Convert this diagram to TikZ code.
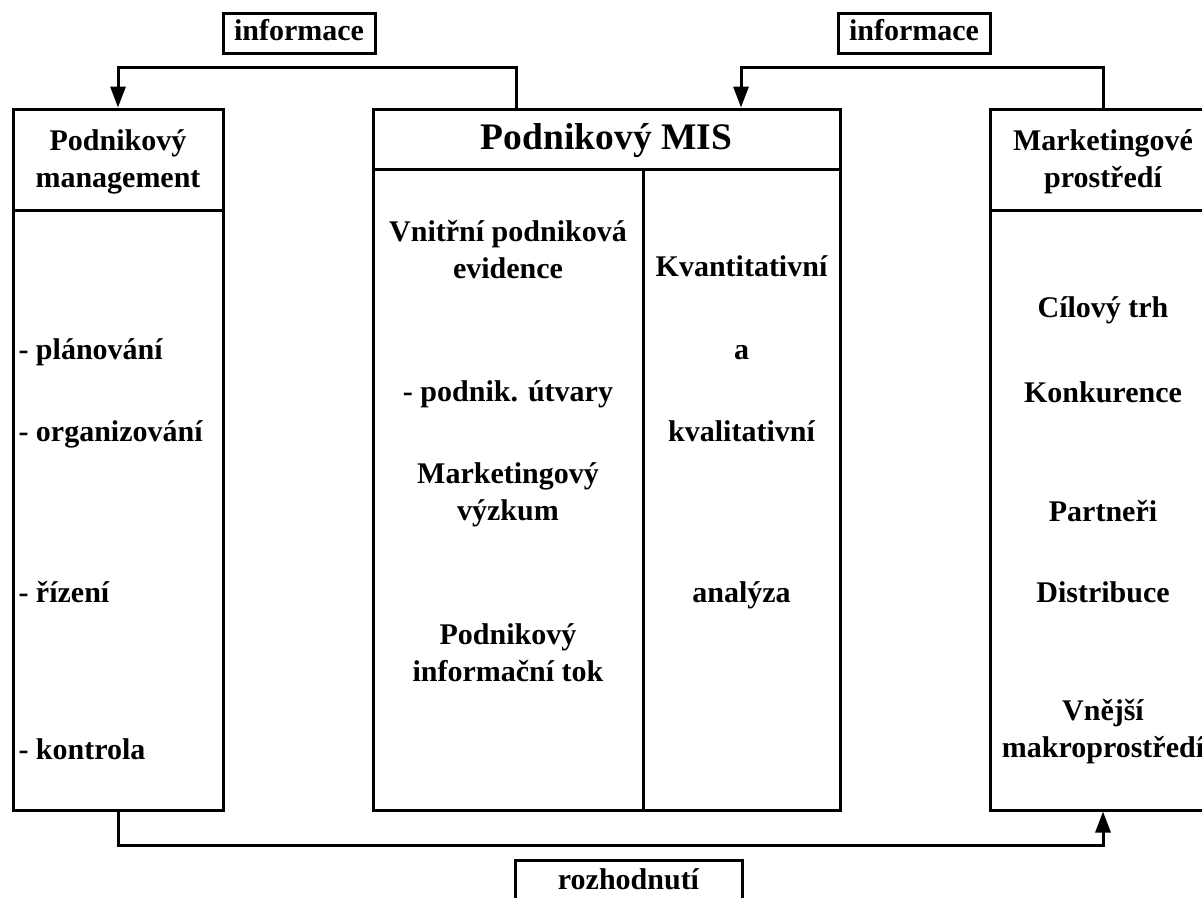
\documentclass[tikz,border=0pt]{standalone}
\usepackage{fontspec}
\setmainfont{Liberation Serif}
\usetikzlibrary{arrows.meta}

\begin{document}
\begin{tikzpicture}[x=1pt,y=-1pt,line width=3pt,
  >={Triangle[length=21pt,width=15pt]},
  frame/.style={draw,inner sep=0pt},
  txt/.style={font=\bfseries\fontsize{30}{37}\selectfont,inner sep=0pt,align=center},
  one/.style={txt,text height=21pt,text depth=6pt},
  tag/.style={draw,one,minimum height=40pt,minimum width=152pt}]
\useasboundingbox (0,0) rectangle (1202,897);
\clip (0,0) rectangle (1202,897);

% three main boxes
\node[frame,minimum width=210pt,minimum height=701pt] (mgmt) at (118,459.5) {};
\node[frame,minimum width=467pt,minimum height=701pt] (mis) at (606.5,459.5) {};
\node[frame,minimum width=226pt,minimum height=701pt] (env) at (1103,459.5) {};
\draw (13,210) -- (223,210);
\draw (373,169) -- (840,169);
\draw (643,169) -- (643,810);
\draw (990,210) -- (1216,210);

% headers
\node[txt] (mgmth) at (118,162) {Podnikový\\management};
\node[one,font=\bfseries\fontsize{37.5}{40}\selectfont,text height=26pt,text depth=8pt] (mish) at (606.5,140) {Podnikový MIS};
\node[txt] (envh) at (1103,162) {Marketingové\\prostředí};

% left box
\foreach \word/\y/\n in {- plánování/352/m1,- organizování/434/m2,- řízení/595/m3,- kontrola/752/m4}
  \node[one,anchor=west] (\n) at (17,\y) {\word};

% MIS
\node[txt] (mis1) at (508,250) {Vnitřní podniková\\evidence};
\node[one] (mis2) at (508,394) {- podnik. útvary};
\node[txt] (mis3) at (508,495) {Marketingový\\výzkum};
\node[txt] (mis4) at (508,653) {Podnikový\\informační tok};
\foreach \word/\y/\n in {Kvantitativní/269/a1,a/352/a2,kvalitativní/434/a3,analýza/595/a4}
  \node[one] (\n) at (741.5,\y) {\word};

% environment
\foreach \word/\y/\n in {Cílový trh/310/e1,Konkurence/395/e2,Partneři/514/e3,Distribuce/595/e4}
  \node[one] (\n) at (1103,\y) {\word};
\node[txt] (e5) at (1103,732) {Vnější\\makroprostředí};

% flows
\node[tag] (info1) at (299,33) {informace};
\node[tag] (info2) at (914,33) {informace};
\node[tag,minimum width=227pt,minimum height=44pt] (dec) at (628.5,882) {rozhodnutí};
\draw[->] ([xshift=-90pt]mis.north) -- ++(0,-40) -| (mgmt.north);
\draw[->] (env.north) -- ++(0,-40) -| ([xshift=134.5pt]mis.north);
\draw[->] (mgmt.south) -- ++(0,34) -| (env.south);
\end{tikzpicture}
\end{document}
